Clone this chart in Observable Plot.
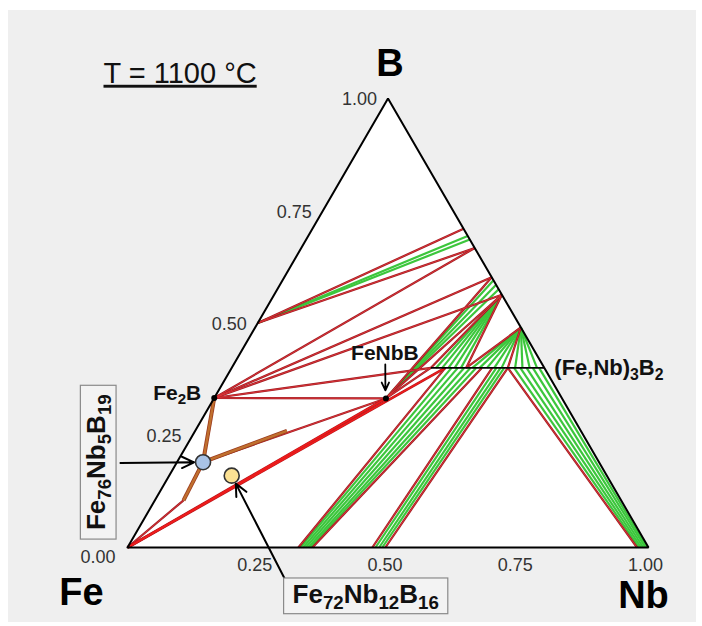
<!DOCTYPE html>
<html>
<head>
<meta charset="utf-8">
<script src="https://cdn.jsdelivr.net/npm/d3@7"></script>
<script src="https://cdn.jsdelivr.net/npm/@observablehq/plot@0.6"></script>
<style>
  html, body { margin: 0; padding: 0; background: #ffffff; }
  #wrap { position: relative; width: 702px; height: 626px; overflow: hidden; }
  #panel { position: absolute; left: 8px; top: 10px; width: 688px; height: 612px; background: #efefef; }
  #chart { position: absolute; left: 0; top: 0; }
</style>
</head>
<body>
<div id="wrap"><div id="panel"></div><div id="chart"></div></div>
<script>
// ---------------- data (compositions as mole fractions: Nb, B) ----------------
const title = "T = 1100 °C";

const cornerNames = ["Fe", "Nb", "B"];
const cornerNb = [0, 1, 0];
const cornerB = [0, 0, 1];

const bTicks = [0.25, 0.5, 0.75, 1.0];
const bTickLabels = ["0.25", "0.50", "0.75", "1.00"];
const nbTicks = [0.25, 0.5, 0.75, 1.0];
const nbTickLabels = ["0.25", "0.50", "0.75", "1.00"];
const originLabel = ["0.00"];

// marked phases
const phaseNames = ["Fe_2B", "FeNbB"];
const phaseNb = [0.0, 0.33];
const phaseB = [0.333, 0.332];

// (Fe,Nb)3B2 homogeneity range
const m32Name = "(Fe,Nb)_3B_2";
const m32Nb = [0.382, 0.60];
const m32B = [0.40, 0.40];

// red phase-boundary lines  [Nb1, B1, Nb2, B2]
const redLines = [
  [0.000, 0.500, 0.290, 0.710],
  [0.000, 0.500, 0.333, 0.667],
  [0.000, 0.333, 0.333, 0.667],
  [0.000, 0.333, 0.398, 0.602],
  [0.000, 0.333, 0.437, 0.563],
  [0.000, 0.333, 0.382, 0.400],
  [0.000, 0.333, 0.330, 0.332],
  [0.330, 0.332, 0.398, 0.602],
  [0.330, 0.332, 0.437, 0.563],
  [0.330, 0.332, 0.382, 0.400],
  [0.437, 0.563, 0.382, 0.400],
  [0.437, 0.563, 0.450, 0.400],
  [0.510, 0.490, 0.450, 0.400],
  [0.510, 0.490, 0.530, 0.400],
  [0.328, 0.000, 0.410, 0.400],
  [0.355, 0.000, 0.480, 0.400],
  [0.470, 0.000, 0.500, 0.400],
  [0.495, 0.000, 0.530, 0.400],
  [0.978, 0.000, 0.530, 0.400],
  [0.000, 0.000, 0.055, 0.105],
  [0.050, 0.190, 0.330, 0.332]
];
// strong red lines from the Fe corner
const feLines = [
  [0.000, 0.000, 0.330, 0.332],
  [0.000, 0.000, 0.410, 0.400]
];
// green tie lines
const greenLines = [
  [0.000, 0.500, 0.306, 0.694],
  [0.000, 0.500, 0.314, 0.686],
  [0.330, 0.332, 0.405, 0.595],
  [0.330, 0.332, 0.415, 0.585],
  [0.330, 0.332, 0.425, 0.575],
  [0.437, 0.563, 0.392, 0.400],
  [0.437, 0.563, 0.404, 0.400],
  [0.437, 0.563, 0.416, 0.400],
  [0.437, 0.563, 0.428, 0.400],
  [0.437, 0.563, 0.440, 0.400],
  [0.510, 0.490, 0.462, 0.400],
  [0.510, 0.490, 0.476, 0.400],
  [0.510, 0.490, 0.490, 0.400],
  [0.510, 0.490, 0.504, 0.400],
  [0.510, 0.490, 0.518, 0.400],
  [0.510, 0.490, 0.544, 0.400],
  [0.510, 0.490, 0.558, 0.400],
  [0.510, 0.490, 0.572, 0.400],
  [0.510, 0.490, 0.586, 0.400],
  [0.332, 0.000, 0.422, 0.400],
  [0.337, 0.000, 0.434, 0.400],
  [0.342, 0.000, 0.446, 0.400],
  [0.347, 0.000, 0.458, 0.400],
  [0.351, 0.000, 0.469, 0.400],
  [0.476, 0.000, 0.508, 0.400],
  [0.483, 0.000, 0.516, 0.400],
  [0.489, 0.000, 0.523, 0.400],
  [0.542, 0.400, 0.982, 0.000],
  [0.554, 0.400, 0.986, 0.000],
  [0.566, 0.400, 0.990, 0.000],
  [0.578, 0.400, 0.994, 0.000],
  [0.590, 0.400, 0.997, 0.000]
];
// brown lines around the liquid composition
const brownLines = [
  [0.000, 0.333, 0.050, 0.190],
  [0.050, 0.190, 0.055, 0.105],
  [0.050, 0.190, 0.176, 0.260]
];

// alloys
const alloyNames = ["Fe_76Nb_5B_19", "Fe_72Nb_12B_16"];
const alloyNb = [0.05, 0.12];
const alloyB = [0.19, 0.16];
// arrow start points (composition coordinates)
const alloyArrowNb = [-0.1075, 0.336];
const alloyArrowB = [0.188, -0.069];
const fenbbArrowNb = [0.291, 0.320];
const fenbbArrowB = [0.4076, 0.350];

// ---------------- helpers ----------------
const SQ = Math.sqrt(3) / 2;
const cx = (n, b) => n + b / 2;
const cy = (n, b) => b * SQ;
const seg = arr => arr.map(([n1, b1, n2, b2]) => ({x1: cx(n1, b1), y1: cy(n1, b1), x2: cx(n2, b2), y2: cy(n2, b2)}));

const corners = cornerNames.map((name, i) => ({name, x: cx(cornerNb[i], cornerB[i]), y: cy(cornerNb[i], cornerB[i])}));
const Fe = corners[0], Nb = corners[1], B = corners[2];
const areaPts = [Fe, B, Nb];
const edgePts = [Fe, B, Nb, Fe];

const phases = phaseNames.map((name, i) => ({name, x: cx(phaseNb[i], phaseB[i]), y: cy(phaseNb[i], phaseB[i])}));
const alloys = alloyNames.map((name, i) => ({name, x: cx(alloyNb[i], alloyB[i]), y: cy(alloyNb[i], alloyB[i])}));
const alloyArrows = alloyNames.map((name, i) => ({
  x1: cx(alloyArrowNb[i], alloyArrowB[i]), y1: cy(alloyArrowNb[i], alloyArrowB[i]),
  x2: alloys[i].x, y2: alloys[i].y
}));
const fenbbArrow = [{
  x1: cx(fenbbArrowNb[0], fenbbArrowB[0]), y1: cy(fenbbArrowNb[0], fenbbArrowB[0]),
  x2: cx(fenbbArrowNb[1], fenbbArrowB[1]), y2: cy(fenbbArrowNb[1], fenbbArrowB[1])
}];
const m32 = [{x1: cx(m32Nb[0], m32B[0]), y1: cy(m32Nb[0], m32B[0]), x2: cx(m32Nb[1], m32B[1]), y2: cy(m32Nb[1], m32B[1])}];
const m32End = [{name: m32Name, x: m32[0].x2, y: m32[0].y2}];

const FONT = "Liberation Sans, Arial, Helvetica, sans-serif";

const chart = Plot.plot({
  width: 702,
  height: 626,
  marginLeft: 127,
  marginRight: 54,
  marginTop: 98,
  marginBottom: 79,
  x: {domain: [0, 1], axis: null},
  y: {domain: [0, SQ], axis: null},
  style: {background: "transparent", fontFamily: FONT, overflow: "visible"},
  marks: [
    Plot.areaY(areaPts, {x: "x", y: "y", fill: "#ffffff", curve: "linear"}),
    Plot.link(seg(greenLines), {x1: "x1", y1: "y1", x2: "x2", y2: "y2", stroke: "#3cc63c", strokeWidth: 2.2}),
    Plot.link(seg(redLines), {x1: "x1", y1: "y1", x2: "x2", y2: "y2", stroke: "#9e1c22", strokeWidth: 2.2}),
    Plot.link(seg(redLines), {x1: "x1", y1: "y1", x2: "x2", y2: "y2", stroke: "#e0363a", strokeWidth: 0.9}),
    Plot.link(seg(feLines), {x1: "x1", y1: "y1", x2: "x2", y2: "y2", stroke: "#b4161c", strokeWidth: 2.8}),
    Plot.link(seg(feLines), {x1: "x1", y1: "y1", x2: "x2", y2: "y2", stroke: "#ee1c1c", strokeWidth: 1.6}),
    Plot.link(seg(brownLines), {x1: "x1", y1: "y1", x2: "x2", y2: "y2", stroke: "#9a3a1e", strokeWidth: 4}),
    Plot.link(seg(brownLines), {x1: "x1", y1: "y1", x2: "x2", y2: "y2", stroke: "#c0702e", strokeWidth: 2.4}),
    Plot.line(edgePts, {x: "x", y: "y", stroke: "#000", strokeWidth: 2, strokeLinejoin: "miter"}),
    Plot.link(m32, {x1: "x1", y1: "y1", x2: "x2", y2: "y2", stroke: "#000", strokeWidth: 1.8}),
    Plot.dot(phases, {x: "x", y: "y", r: 3, fill: "#000"}),
    Plot.arrow(fenbbArrow, {x1: "x1", y1: "y1", x2: "x2", y2: "y2", stroke: "#000", strokeWidth: 1.8, headLength: 9, headAngle: 50}),
    Plot.arrow(alloyArrows, {x1: "x1", y1: "y1", x2: "x2", y2: "y2", stroke: "#000", strokeWidth: 2, headLength: 10, headAngle: 50, insetEnd: 9}),
    Plot.dot(alloys.slice(0, 1), {x: "x", y: "y", r: 7.5, fill: "#a9c3e6", stroke: "#333", strokeWidth: 1.6}),
    Plot.dot(alloys.slice(1, 2), {x: "x", y: "y", r: 7.5, fill: "#fbe193", stroke: "#333", strokeWidth: 1.6}),
    // title
    Plot.text([title], {frameAnchor: "top-left", text: d => d, dx: -24, dy: -25, textAnchor: "start", lineAnchor: "middle", fontSize: 29, fill: "#111"}),
    // corner labels
    Plot.text([Fe], {x: "x", y: "y", text: "name", dx: -46, dy: 45, fontSize: 38, fontWeight: "bold", fill: "#000"}),
    Plot.text([Nb], {x: "x", y: "y", text: "name", dx: -5, dy: 48, fontSize: 38, fontWeight: "bold", fill: "#000"}),
    Plot.text([B], {x: "x", y: "y", text: "name", dx: 2, dy: -35, fontSize: 38, fontWeight: "bold", fill: "#000"}),
    // tick labels
    Plot.text(bTicks, {x: b => cx(0, b), y: b => cy(0, b), text: (d, i) => bTickLabels[i], textAnchor: "end", dx: -11, dy: 1, fontSize: 18, fill: "#333"}),
    Plot.text(nbTicks, {x: n => cx(n, 0), y: n => cy(n, 0), text: (d, i) => nbTickLabels[i], dx: -3, dy: 18, fontSize: 18, fill: "#333"}),
    Plot.text(originLabel, {x: () => Fe.x, y: () => Fe.y, text: d => d, textAnchor: "end", dx: -12, dy: 10, fontSize: 18, fill: "#333"}),
    // phase labels
    Plot.text(phases.slice(0, 1), {x: "x", y: "y", text: "name", textAnchor: "end", dx: -13, dy: -5, fontSize: 21, fontWeight: "bold", fill: "#111"}),
    Plot.text(phases.slice(1, 2), {x: "x", y: "y", text: "name", dx: -1, dy: -45, fontSize: 21, fontWeight: "bold", fill: "#111"}),
    Plot.text(m32End, {x: "x", y: "y", text: "name", textAnchor: "start", dx: 10, dy: 0, fontSize: 22, fontWeight: "bold", fill: "#111"}),
    // alloy labels
    Plot.text(alloys.slice(0, 1), {x: "x", y: "y", text: "name", rotate: -90, dx: -106, dy: 0, fontSize: 26, fontWeight: "bold", fill: "#111"}),
    Plot.text(alloys.slice(1, 2), {x: "x", y: "y", text: "name", dx: 134, dy: 119, fontSize: 26, fontWeight: "bold", fill: "#111"})
  ]
});

document.getElementById("chart").appendChild(chart);

// ---------------- post-processing: subscripts, boxes, underline ----------------
const NS = "http://www.w3.org/2000/svg";
chart.querySelectorAll("text").forEach(t => {
  const s = t.textContent;
  if (s === title) {
    t.setAttribute("text-decoration", "underline");
    t.style.textDecoration = "underline";
  }
  if (!s.includes("_")) return;
  const fs = parseFloat(getComputedStyle(t).fontSize) || 20;
  const shift = 0.22 * fs;
  const parts = s.split(/(_\d+)/).filter(p => p.length);
  t.textContent = "";
  let shifted = false;
  for (const p of parts) {
    const ts = document.createElementNS(NS, "tspan");
    if (p.startsWith("_")) {
      ts.textContent = p.slice(1);
      ts.setAttribute("font-size", (0.72 * fs).toFixed(1));
      ts.setAttribute("dy", shift.toFixed(1));
      shifted = true;
    } else {
      ts.textContent = p;
      if (shifted) ts.setAttribute("dy", (-shift).toFixed(1));
      shifted = false;
    }
    t.appendChild(ts);
  }
});
const boxed = new Set(alloyNames.map(s => s.replace(/_/g, "")));
chart.querySelectorAll("text").forEach(t => {
  if (!boxed.has(t.textContent)) return;
  const bb = t.getBBox();
  const r = document.createElementNS(NS, "rect");
  r.setAttribute("x", bb.x - 9);
  r.setAttribute("y", bb.y - 1);
  r.setAttribute("width", bb.width + 18);
  r.setAttribute("height", bb.height + 2);
  r.setAttribute("fill", "#f3f3f3");
  r.setAttribute("stroke", "#8a8a8a");
  r.setAttribute("stroke-width", 1.2);
  if (t.hasAttribute("transform")) r.setAttribute("transform", t.getAttribute("transform"));
  t.parentNode.insertBefore(r, t);
});
</script>
</body>
</html>
